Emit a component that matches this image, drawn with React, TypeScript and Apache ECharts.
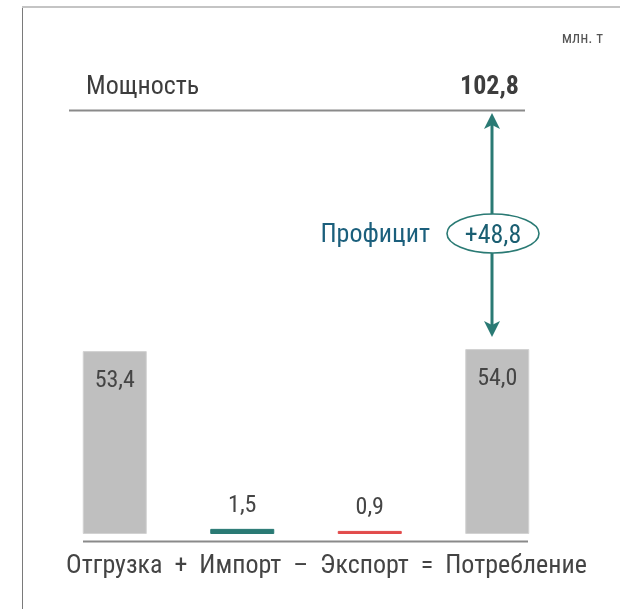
import React, { useEffect, useRef } from "react";
import * as echarts from "echarts";

const categories = ["Отгрузка", "Импорт", "Экспорт", "Потребление"];
const operators = ["+", "–", "="];
const values = [53.4, 1.5, 0.9, 54.0];
const barColors = ["#bfbfbf", "#2a7a74", "#e24b4b", "#bfbfbf"];
const capacityLabel = "Мощность";
const capacityValue = 102.8;
const surplusLabel = "Профицит";
const surplusValue = 48.8;
const unitLabel = "млн. т";

const FONT = "'Roboto Condensed', 'Liberation Sans Narrow', 'DejaVu Sans Condensed', Roboto, sans-serif";
const fmt = (v: number) => v.toFixed(1).replace(".", ",");

export default function App() {
  const ref = useRef<HTMLDivElement>(null);
  useEffect(() => {
    if (!ref.current) return;
    const chart = echarts.init(ref.current, null, { renderer: "svg" });
    const bottomText = categories
      .map((c, i) => (i < operators.length ? c + "  " + operators[i] + "  " : c))
      .join("");
    chart.setOption({
      animation: false,
      grid: { left: 51, right: 59, top: 123, bottom: 75 },
      xAxis: {
        type: "category",
        data: categories,
        axisLine: { show: false },
        axisTick: { show: false },
        axisLabel: { show: false },
      },
      yAxis: {
        type: "value",
        min: 0,
        max: 120,
        show: false,
        splitLine: { show: false },
      },
      series: [
        {
          type: "bar",
          barWidth: 64,
          data: values.map((v, i) => ({
            value: v,
            itemStyle: {
              color: barColors[i],
              borderColor: barColors[i] === "#bfbfbf" ? "#d2d2d2" : barColors[i],
              borderWidth: 1,
            },
            label: {
              show: true,
              position: v > 10 ? "insideTop" : "top",
              distance: v > 10 ? 16 : 13,
              formatter: () => fmt(v),
              color: "#454545",
              fontSize: 24,
              fontFamily: FONT,
            },
          })),
        },
      ],
      graphic: [
        { type: "line", shape: { x1: 22, y1: 7, x2: 620, y2: 7 }, style: { stroke: "#c4c4c4", lineWidth: 2 } },
        { type: "line", shape: { x1: 22.5, y1: 8, x2: 22.5, y2: 609 }, style: { stroke: "#7a7a7a", lineWidth: 1 } },
        {
          type: "text",
          x: 603,
          y: 37,
          style: { text: unitLabel, fill: "#555", fontSize: 16, fontFamily: FONT, align: "right", verticalAlign: "middle" },
        },
        {
          type: "text",
          x: 86,
          y: 85,
          style: { text: capacityLabel, fill: "#3d3d3d", fontSize: 26, fontFamily: FONT, verticalAlign: "middle", align: "left" },
        },
        {
          type: "text",
          x: 519,
          y: 85,
          style: { text: fmt(capacityValue), fill: "#3d3d3d", fontSize: 26, fontWeight: "bold", fontFamily: FONT, verticalAlign: "middle", align: "right" },
        },
        { type: "line", shape: { x1: 69, y1: 110.5, x2: 525, y2: 110.5 }, style: { stroke: "#8a8a8a", lineWidth: 2 } },
        { type: "line", shape: { x1: 492, y1: 125, x2: 492, y2: 214 }, style: { stroke: "#2a7a74", lineWidth: 3 } },
        { type: "line", shape: { x1: 492, y1: 253, x2: 492, y2: 325 }, style: { stroke: "#2a7a74", lineWidth: 3 } },
        { type: "polygon", shape: { points: [[492, 113], [484, 129], [492, 125], [500, 129]] }, style: { fill: "#2a7a74" } },
        { type: "polygon", shape: { points: [[492, 337], [484, 321], [492, 325], [500, 321]] }, style: { fill: "#2a7a74" } },
        {
          type: "ellipse",
          shape: { cx: 493, cy: 233.5, rx: 46, ry: 19.5 },
          style: { fill: "#fff", stroke: "#2a7a74", lineWidth: 1.6 },
        },
        {
          type: "text",
          x: 493,
          y: 234,
          style: { text: "+" + fmt(surplusValue), fill: "#1b5f72", fontSize: 26, fontFamily: FONT, align: "center", verticalAlign: "middle" },
        },
        {
          type: "text",
          x: 430,
          y: 233,
          style: { text: surplusLabel, fill: "#1b5f7c", fontSize: 26, fontFamily: FONT, align: "right", verticalAlign: "middle" },
        },
        { type: "line", shape: { x1: 83, y1: 541.5, x2: 528, y2: 541.5 }, style: { stroke: "#8a8a8a", lineWidth: 2 } },
        {
          type: "text",
          x: 326.5,
          y: 564,
          style: { text: bottomText, fill: "#444", fontSize: 26, fontFamily: FONT, align: "center", verticalAlign: "middle" },
        },
      ],
    });
    return () => chart.dispose();
  }, []);
  return <div ref={ref} style={{ position: "fixed", left: 0, top: 0, width: 620, height: 609 }} />;
}
